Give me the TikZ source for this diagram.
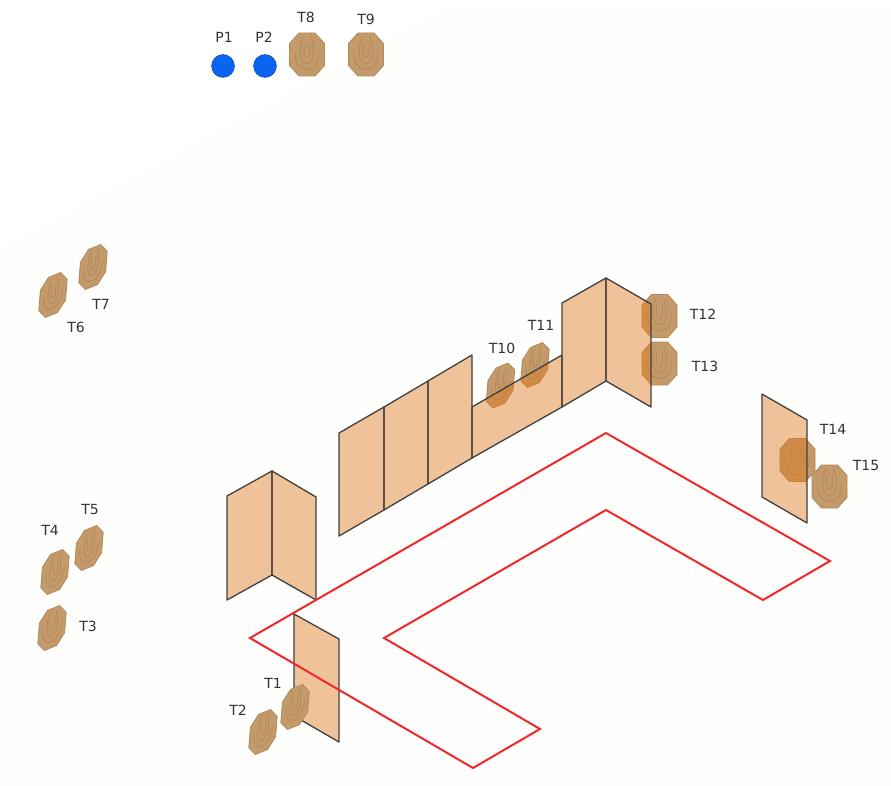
\documentclass[tikz,border=0pt]{standalone}
\usepackage{fontspec}
\setmainfont{DejaVu Sans}
\definecolor{bgc}{HTML}{FEFEFD}
\definecolor{tgt}{HTML}{C49A6A}
\definecolor{tgtline}{HTML}{B08A5A}
\definecolor{wallc}{HTML}{E07A20}
\definecolor{redl}{HTML}{F0282D}
\definecolor{bluep}{HTML}{0A64F0}
\tikzset{
  lab/.style={font=\fontsize{14}{16}\selectfont, text=black!80, inner sep=0pt},
  wall/.style={draw=black!75, line width=1.3pt, line join=round, fill=wallc, fill opacity=.45},
  route/.style={draw=redl, line width=2pt, line join=miter},
  point/.style={circle, fill=bluep, draw=bluep!75!black, line width=.4pt, minimum size=23pt, inner sep=0pt},
  tface/.style={fill=tgt, draw=tgtline, line width=.8pt, line join=round},
  tring/.style={draw=tgtline, line width=.8pt}
}
% #1 x, #2 y, #3 further transformation of the face
\newcommand{\target}[3]{%
  \begin{scope}[shift={(#1,#2)},#3]
    \path[tface] (-8,-21.5)--(8,-21.5)--(17.5,-11)--(17.5,11)--(8,21.5)--(-8,21.5)--(-17.5,11)--(-17.5,-11)--cycle;
    \draw[tring] (-3,-11) .. controls (-3.5,0) and (-2,3) .. (0,3) .. controls (2,3) and (3.5,0) .. (3,-11);
    \draw[tring] (-4,-18) .. controls (-8.5,-6) and (-8,9) .. (0,9) .. controls (8,9) and (8.5,-6) .. (4,-18);
    \draw[tring] (-12,-2) .. controls (-12,10) and (-6,15) .. (0,15) .. controls (6,15) and (12,10) .. (12,-2);
  \end{scope}}
\tikzset{iso/.style={xslant=.08,yslant=.42,xscale=.74,yscale=.93}}
\begin{document}
\begin{tikzpicture}[x=1pt,y=-1pt]
\useasboundingbox (0,0) rectangle (891,786);
\fill[white] (0,0) rectangle (891,786);
\fill[bgc] (0,250) -- (440,12) -- (891,12) -- (891,786) -- (0,786) -- cycle;

% targets behind the walls
\target{500.5}{385.5}{iso}
\target{535}{365}{iso}
\target{659.5}{316}{}
\target{659.5}{363.5}{}
\target{797.5}{460}{}

% walls
\coordinate (a1) at (227,496); \coordinate (a2) at (272,471); \coordinate (a3) at (316,497);
\coordinate (a4) at (316,600); \coordinate (a5) at (272,575); \coordinate (a6) at (227,600);
\path[wall] (a1)--(a2)--(a5)--(a6)--cycle;
\path[wall] (a2)--(a3)--(a4)--(a5)--cycle;

\coordinate (b1) at (339,433); \coordinate (b2) at (384,407); \coordinate (b3) at (428,381);
\coordinate (b4) at (472,355); \coordinate (b5) at (472,458); \coordinate (b6) at (428,484);
\coordinate (b7) at (384,510); \coordinate (b8) at (339,536);
\path[wall] (b1)--(b2)--(b7)--(b8)--cycle;
\path[wall] (b2)--(b3)--(b6)--(b7)--cycle;
\path[wall] (b3)--(b4)--(b5)--(b6)--cycle;

\coordinate (c1) at (472,407); \coordinate (c2) at (562,355); \coordinate (c3) at (562,407);
\path[wall] (c1)--(c2)--(c3)--(b5)--cycle;

\coordinate (d1) at (562,303); \coordinate (d2) at (606,278); \coordinate (d3) at (651,304);
\coordinate (d4) at (651,407); \coordinate (d5) at (606,381);
\path[wall] (d1)--(d2)--(d5)--(c3)--cycle;
\path[wall] (d2)--(d3)--(d4)--(d5)--cycle;

\coordinate (e1) at (762,394); \coordinate (e2) at (807,420); \coordinate (e3) at (807,523); \coordinate (e4) at (762,497);
\path[wall] (e1)--(e2)--(e3)--(e4)--cycle;

\coordinate (f1) at (294,614); \coordinate (f2) at (339,639); \coordinate (f3) at (339,742); \coordinate (f4) at (294,716);
\path[wall] (f1)--(f2)--(f3)--(f4)--cycle;

% route
\draw[route] (250,638)--(606,433)--(830,561)--(763,600)--(606,510)--(384,638)--(540,729)--(473,768)--cycle;

% targets in front
\target{307}{54.5}{}
\target{366}{54.5}{}
\target{829.5}{486.5}{}
\target{295}{707}{iso}
\target{263}{732}{iso}
\target{52}{628}{iso}
\target{55}{572}{iso}
\target{89}{548}{iso}
\target{53}{295}{iso}
\target{93}{267}{iso}

% points
\node[point] (p1) at (223,66) {};
\node[point] (p2) at (265,66) {};

% labels
\node[lab] (lp1) at (224,37) {P1};
\node[lab] (lp2) at (264,37) {P2};
\node[lab] (l8) at (306,17) {T8};
\node[lab] (l9) at (366,19) {T9};
\node[lab] (l7) at (101,304) {T7};
\node[lab] (l6) at (76,327) {T6};
\node[lab] (l5) at (90,509) {T5};
\node[lab] (l4) at (50,530) {T4};
\node[lab] (l3) at (88,626) {T3};
\node[lab] (l1) at (273,683) {T1};
\node[lab] (l2) at (238,710) {T2};
\node[lab] (l10) at (502,348) {T10};
\node[lab] (l11) at (541,325) {T11};
\node[lab] (l12) at (703,314) {T12};
\node[lab] (l13) at (705,366) {T13};
\node[lab] (l14) at (833,429) {T14};
\node[lab] (l15) at (866,465) {T15};
\end{tikzpicture}
\end{document}
